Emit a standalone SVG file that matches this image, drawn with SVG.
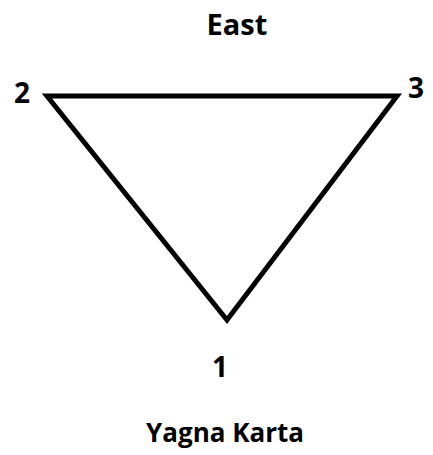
<svg xmlns="http://www.w3.org/2000/svg" width="433" height="455" viewBox="0 0 433 455">
<style>
text{font-family:"Open Sans","Liberation Sans",sans-serif;font-weight:bold;font-size:28px;fill:#000;text-anchor:middle}
.edge{fill:none;stroke:#000;stroke-width:5;stroke-linejoin:miter}
</style>
<rect width="433" height="455" fill="#fff"/>
<g id="connectors">
<polygon class="edge" points="47,96 397,96 227,320"/>
</g>
<g id="east"><text x="237" y="35" style="font-size:29px">East</text></g>
<g id="v2"><text x="22" y="103">2</text></g>
<g id="v3"><text x="416" y="98">3</text></g>
<g id="v1"><text x="220" y="377">1</text></g>
<g id="title"><text x="225" y="442" style="font-size:26px">Yagna Karta</text></g>
</svg>
